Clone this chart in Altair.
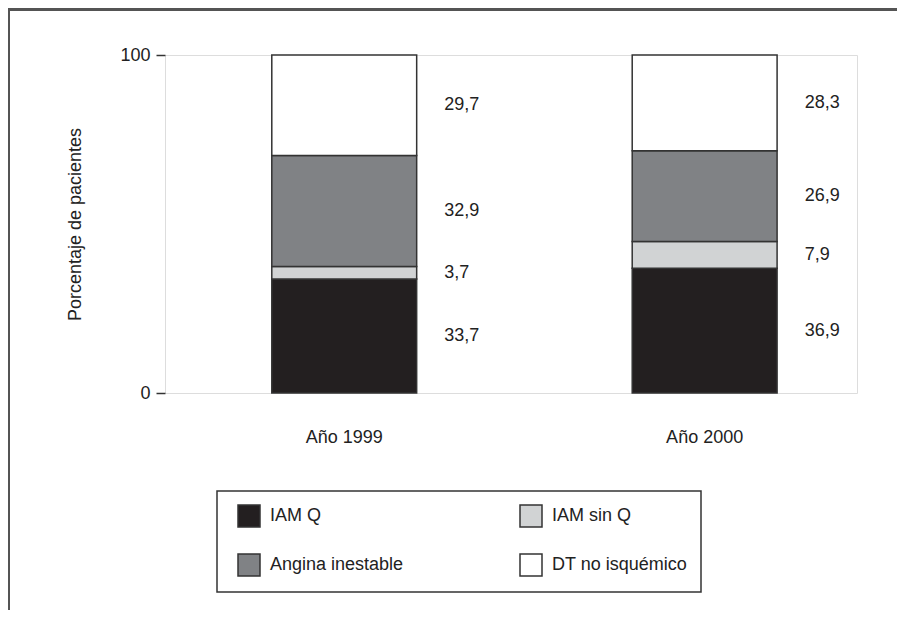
import altair as alt
import pandas as pd

years = ["Año 1999", "Año 2000"]
categories = ["IAM Q", "IAM sin Q", "Angina inestable", "DT no isquémico"]
values_1999 = [33.7, 3.7, 32.9, 29.7]
values_2000 = [36.9, 7.9, 26.9, 28.3]
colors = ["#231f20", "#d1d3d4", "#808285", "#ffffff"]
# legend is read row by row: IAM Q, IAM sin Q / Angina inestable, DT no isquémico
legend_order = ["IAM Q", "Angina inestable", "IAM sin Q", "DT no isquémico"]

rows = []
for year, vals in zip(years, [values_1999, values_2000]):
    cum = 0.0
    for i, (cat, v) in enumerate(zip(categories, vals)):
        rows.append({
            "year": year, "cat": cat, "order": i, "value": v,
            "y0": cum, "y1": cum + v, "mid": cum + v / 2,
            "label": f"{v:.1f}".replace(".", ","),
        })
        cum += v
df = pd.DataFrame(rows)

color_of = dict(zip(categories, colors))
FONT = "Liberation Sans, Arial, sans-serif"
FS = 18
W, H = 692, 338

xscale = alt.Scale(domain=years, paddingInner=0.598, paddingOuter=0.259, align=0.572)
yscale = alt.Scale(domain=[0, 100], nice=False)

bars = alt.Chart(df).mark_bar(stroke="#333333", strokeWidth=1.5).encode(
    x=alt.X("year:N", scale=xscale, sort=years,
            axis=alt.Axis(title=None, labelAngle=0, ticks=False, domain=False,
                          labelPadding=35, labelFontSize=FS, labelColor="#222222",
                          labelFont=FONT)),
    y=alt.Y("y0:Q", scale=yscale,
            axis=alt.Axis(title="Porcentaje de pacientes", values=[0, 100],
                          tickSize=9, tickColor="#333333", tickWidth=1.5,
                          domain=False, grid=False, labelPadding=6,
                          labelFontSize=FS, labelColor="#222222", labelFont=FONT,
                          titleFont=FONT, titleFontSize=FS, titleFontWeight="normal",
                          titleColor="#222222", titlePadding=35)),
    y2="y1:Q",
    fill=alt.Color("cat:N",
                   scale=alt.Scale(domain=legend_order,
                                   range=[color_of[c] for c in legend_order]),
                   legend=alt.Legend(title=None, orient="none", legendX=52, legendY=436,
                                     columns=2, symbolType="square", symbolSize=484,
                                     symbolStrokeColor="#333333", symbolStrokeWidth=1.5,
                                     symbolOffset=7,
                                     labelFont=FONT, labelFontSize=FS, labelColor="#222222",
                                     labelOffset=9, columnPadding=108, rowPadding=21,
                                     padding=13, strokeColor="#333333", labelLimit=300)),
    order=alt.Order("order:Q"),
)

texts = alt.Chart(df).mark_text(align="left", baseline="middle", dx=100,
                                font=FONT, fontSize=FS, color="#222222").encode(
    x=alt.X("year:N", scale=xscale, sort=years),
    y=alt.Y("mid:Q", scale=yscale),
    text="label:N",
)

frame_top = alt.Chart(df).mark_rule(color="#555555", strokeWidth=2).encode(
    x=alt.value(-157), x2=alt.value(740), y=alt.value(-45.5))
frame_left = alt.Chart(df).mark_rule(color="#555555", strokeWidth=2).encode(
    x=alt.value(-156.5), y=alt.value(-45.5), y2=alt.value(560))

chart = alt.layer(frame_top, frame_left, bars, texts).properties(
    width=W, height=H,
    autosize=alt.AutoSizeParams(type="none"),
    padding={"left": 157, "top": 47, "right": 40, "bottom": 217},
).configure_view(stroke="#333333", strokeWidth=1.5).configure(
    font=FONT
).configure_legend(strokeWidth=1.5)

chart.save("out.html", embed_options={"renderer": "svg", "actions": False})
